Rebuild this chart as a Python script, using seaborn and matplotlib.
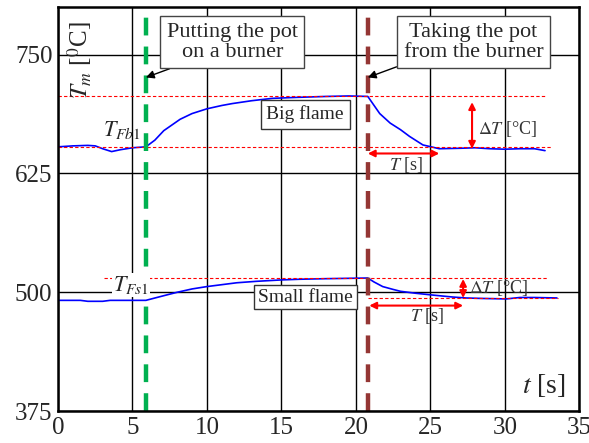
import matplotlib
matplotlib.use("Agg")
import pandas as pd
import matplotlib.pyplot as plt
import seaborn as sns

# Big flame measurement (time [s], temperature [C])
big_t = [0, 1, 2, 2.5, 3, 3.6, 4.2, 5, 5.9, 6.5, 7.1, 8.2, 9, 10, 11, 11.7, 13, 14.4,
         16, 18, 19.5, 20.8, 21.2, 21.6, 22.3, 23, 23.6, 24.5, 25.6, 27, 28, 29, 30, 31, 32, 32.7]
big_T = [653, 654, 654.5, 654, 651, 648, 650, 652, 653, 660, 670, 682, 688, 693, 696.5, 698.5, 701.5, 704,
         705, 706, 706.5, 706, 697, 688, 678, 671, 664, 655, 651, 651.5, 652, 651, 650.5, 651, 651, 649]

# Small flame measurement
small_t = [0, 1.5, 2, 3, 3.5, 5.9, 7, 8, 9, 10, 11, 12, 13.3, 15, 16.2, 18, 20.8,
           21.2, 21.8, 22.5, 23, 24, 25.2, 26.5, 27.4, 28.5, 30.1, 31, 32, 33.5]
small_T = [491.5, 491.5, 490.5, 490.5, 491.5, 491.5, 496, 500, 503.5, 506, 508, 510, 511.5, 513, 513.7, 514.3, 515,
           511, 506, 503, 501, 499, 497, 495, 494, 493.5, 493, 494.5, 494.5, 494]

t_on, t_off = 5.9, 20.8
big_levels = [706, 653]
small_levels = [515, 494]
big_T_end = 25.6
small_T_end = 27.2

df = pd.concat([
    pd.DataFrame({"t": big_t, "T": big_T, "run": "big"}),
    pd.DataFrame({"t": small_t, "T": small_T, "run": "small"}),
])

sns.set_style("white")
plt.rcParams["font.family"] = ["Liberation Serif", "DejaVu Serif"]
plt.rcParams["mathtext.fontset"] = "stix"

fig = plt.figure(figsize=(5.89, 4.43), dpi=100)
ax = fig.add_axes([0.0985, 0.072, 0.885, 0.912])

sns.lineplot(data=df, x="t", y="T", units="run", estimator=None, color="blue", lw=1.2, ax=ax)

ax.set_xlim(0, 35)
ax.set_ylim(375, 800)
ax.set_xticks(range(0, 36, 5))
ax.set_yticks([375, 500, 625, 750])
ax.tick_params(labelsize=18, length=0, pad=4)
ax.set_xlabel("")
ax.set_ylabel("")
ax.grid(True, color="black", lw=1)
for s in ax.spines.values():
    s.set_color("black")
    s.set_linewidth(1.8)

# reference levels
ax.hlines(big_levels[0], 0, 32.7, colors="red", linestyles=(0, (3, 2)), lw=0.8)
ax.hlines(big_levels[1], 0, 33.2, colors="red", linestyles=(0, (3, 2)), lw=0.8)
ax.hlines(small_levels[0], 3.1, 32.9, colors="red", linestyles=(0, (3, 2)), lw=0.8)
ax.hlines(small_levels[1], t_off, 33.6, colors="red", linestyles=(0, (3, 2)), lw=0.8)

# events
ax.axvline(t_on, color="#00B050", lw=3.2, ls=(0, (4, 2.5)))
ax.axvline(t_off, color="#943634", lw=3.2, ls=(0, (4, 2.5)))

box = dict(boxstyle="square,pad=0.3", fc="white", ec="#444444", lw=1)
ax.annotate("Putting the pot\non a burner", xy=(t_on, 726), xytext=(11.7, 763),
            ha="center", va="center", fontsize=16, bbox=box, linespacing=1.05,
            arrowprops=dict(arrowstyle="-|>", color="black", lw=1, mutation_scale=12,
                            shrinkA=0, shrinkB=0, relpos=(0.17, 0.0)))
ax.annotate("Taking the pot\nfrom the burner", xy=(t_off, 726), xytext=(27.9, 763),
            ha="center", va="center", fontsize=16, bbox=box, linespacing=1.05,
            arrowprops=dict(arrowstyle="-|>", color="black", lw=1, mutation_scale=12,
                            shrinkA=0, shrinkB=0, relpos=(0.05, 0.0)))
ax.text(16.6, 687, "Big flame", ha="center", va="center", fontsize=14,
        bbox=dict(boxstyle="square,pad=0.3", fc="white", ec="#333333", lw=1))
ax.text(16.6, 495, "Small flame", ha="center", va="center", fontsize=14,
        bbox=dict(boxstyle="square,pad=0.2", fc="white", ec="#333333", lw=1))

# delta arrows
arr = dict(arrowstyle="<|-|>", color="red", lw=1.5, mutation_scale=10, shrinkA=0, shrinkB=0)
ax.annotate("", xy=(27.8, 700), xytext=(27.8, 651), arrowprops=arr)
ax.annotate("", xy=(t_off, 646), xytext=(big_T_end, 646), arrowprops=arr)
ax.text(28.2, 672, r"$\Delta T$ [°C]", fontsize=13, va="center", ha="left", color="#333333")
ax.text(23.4, 634, r"$T$ [s]", fontsize=13, va="center", ha="center", color="#333333")

ax.annotate("", xy=(small_T_end, 514), xytext=(small_T_end, 494), arrowprops=arr)
ax.annotate("", xy=(t_off + 0.1, 486), xytext=(small_T_end, 486), arrowprops=arr)
ax.text(27.6, 505, r"$\Delta T$ [°C]", fontsize=13, va="center", ha="left", color="#333333")
ax.text(24.8, 475, r"$T$ [s]", fontsize=13, va="center", ha="center", color="#333333")

ax.text(4.3, 671, r"$T_{Fb\mathrm{1}}$", fontsize=16, ha="center", va="center")
ax.text(4.9, 508, r"$T_{Fs\mathrm{1}}$", fontsize=16, ha="center", va="center",
        bbox=dict(boxstyle="square,pad=0.05", fc="white", ec="none"))

ax.text(0.042, 0.965, r"$T_m$ [$^0$C]", transform=ax.transAxes, rotation=90,
        fontsize=18, ha="center", va="top")
ax.text(0.975, 0.03, r"$t$ [s]", transform=ax.transAxes, fontsize=20, ha="right", va="bottom")

fig.savefig("out.png", dpi=100)
